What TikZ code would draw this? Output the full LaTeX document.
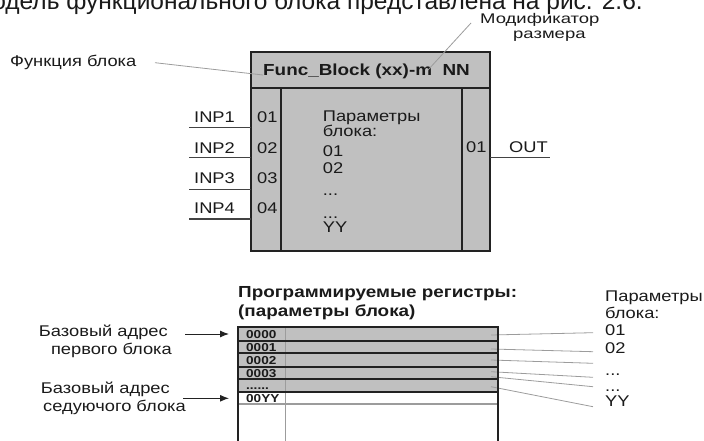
\documentclass[tikz,border=0pt]{standalone}
\usepackage{fontspec}
\setmainfont{Liberation Sans}
\newfontfamily\wf{Liberation Sans}[FakeStretch=1.18]
\newfontfamily\wfw{Liberation Sans}[FakeStretch=1.32]
\usetikzlibrary{arrows.meta}
\definecolor{blkfill}{HTML}{C0C0C0}
\definecolor{edgec}{HTML}{222222}
\definecolor{leadc}{HTML}{9C9C9C}
\definecolor{txtc}{HTML}{1A1A1A}
\tikzset{
  txt/.style={inner sep=0pt, text=txtc, font=\wf\fontsize{15.5}{18}\selectfont},
  txtw/.style={inner sep=0pt, text=txtc, font=\wfw\fontsize{14}{16}\selectfont},
  bld/.style={inner sep=0pt, text=txtc, font=\wf\bfseries\fontsize{16}{19}\selectfont},
  regl/.style={inner sep=0pt, text=txtc, font=\wf\bfseries\fontsize{11.5}{13}\selectfont},
  blkline/.style={draw=edgec, line width=2.2pt},
  tabline/.style={draw=edgec, line width=1.8pt},
  leader/.style={draw=leadc, line width=0.8pt},
  wire/.style={draw=edgec!85, line width=1.2pt},
  ptr/.style={draw=edgec, line width=1pt, -{Latex[length=9pt,width=7pt]}},
}
\begin{document}
\begin{tikzpicture}[x=1pt,y=-1pt]
\useasboundingbox (0,0) rectangle (704,441);
% caption line (cut at the top)
\node[anchor=base east, inner sep=0pt, text=txtc, font=\fontsize{24.5}{28}\selectfont] (cap) at (643,10) {Модель функционального блока представлена на рис. 2.6.};

% ---------- function block ----------
\coordinate (Bnw) at (251,51.7);
\coordinate (Bse) at (490,250.7);
\fill[blkfill] (Bnw) rectangle (Bse);
\coordinate (Tl) at (251,87.7);
\coordinate (Tr) at (490,87.7);
\coordinate (C1t) at (281,87.7);
\coordinate (C1b) at (281,250.7);
\coordinate (C2t) at (461.7,87.7);
\coordinate (C2b) at (461.7,250.7);
\draw[blkline] (Tl) -- (Tr);
\draw[blkline] (C1t) -- (C1b);
\draw[blkline] (C2t) -- (C2b);
\draw[blkline] (Bnw) rectangle (Bse);

\node[bld, anchor=base west] (title) at (263,75.7) {Func\_Block (xx)-m\ \ NN};

% labels outside
\node[txt, anchor=base west] (fn) at (10,66.7) {Функция блока};
\coordinate (fnA) at (155,62.7);
\coordinate (fnB) at (263,75);
\draw[leader] (fnA) -- (fnB);

\node[txtw, anchor=base west] (mod1) at (480,24) {Модификатор};
\node[txtw, anchor=base west] (mod2) at (513,39) {размера};
\coordinate (modA) at (471,23);
\coordinate (modB) at (428,70);
\draw[leader] (modA) -- (modB);

% inputs
\foreach \i/\lab/\by/\wy in {1/INP1/122.7/127.3, 2/INP2/153.3/157.7, 3/INP3/183.3/189.3, 4/INP4/213.3/219}{
  \node[txt, anchor=base west] (inp\i) at (194,\by) {\lab};
  \node[txt, anchor=base west] (pin\i) at (257,\by) {0\i};
  \coordinate (wA\i) at (189,\wy);
  \coordinate (wB\i) at (251,\wy);
  \draw[wire] (wA\i) -- (wB\i);
}

% parameters inside
\node[txt, anchor=base west] (p1) at (322.7,121.7) {Параметры};
\node[txt, anchor=base west] (p2) at (322.7,136.7) {блока:};
\node[txt, anchor=base west] (p3) at (322.7,156.7) {01};
\node[txt, anchor=base west] (p4) at (322.7,173.3) {02};
\node[txt, anchor=base west] (p5) at (322.7,195) {...};
\node[txt, anchor=base west] (p6) at (322.7,218) {...};
\node[txt, anchor=base west] (p7) at (322.7,232.7) {YY};

% output
\node[txt, anchor=base west] (pout) at (466,152.7) {01};
\node[txt, anchor=base west] (out) at (509,152.7) {OUT};
\coordinate (oA) at (490,157.7);
\coordinate (oB) at (550,157.7);
\draw[wire] (oA) -- (oB);

% ---------- register table ----------
\node[bld, anchor=base west] (rh1) at (238,297) {Программируемые регистры:};
\node[bld, anchor=base west] (rh2) at (238,316) {(параметры блока)};

\coordinate (Rnw) at (238.3,327.3);
\coordinate (Rg) at (498.3,391.7);
\fill[blkfill] (Rnw) rectangle (Rg);
\coordinate (Vt) at (285,327.3);
\coordinate (Vb) at (285,445);
\draw[leadc, line width=0.9pt] (Vt) -- (Vb);

% leaders to parameter list
\foreach \k/\ya/\yb in {1/335/332.7, 2/349/351.7, 3/360/363.3, 4/371.7/377.3, 5/376.7/386.7, 6/386.7/406.7}{
  \coordinate (lA\k) at (491,\ya);
  \coordinate (lB\k) at (593,\yb);
  \draw[leader] (lA\k) -- (lB\k);
}

\foreach \y in {341,353.3,366.7,379.3,391.7}{
  \draw[tabline] (238.3,\y) -- (498.3,\y);
}
\draw[leadc, line width=1.8pt] (238.3,404.3) -- (498.3,404.3);
\coordinate (Rne) at (498.3,327.3);
\coordinate (Rsw) at (238.3,445);
\coordinate (Rse) at (498.3,445);
\draw[tabline] (Rsw) -- (Rnw) -- (Rne) -- (Rse);

\node[regl, anchor=base west] (r0) at (246,338.6) {0000};
\node[regl, anchor=base west] (r1) at (246,351) {0001};
\node[regl, anchor=base west] (r2) at (246,364.3) {0002};
\node[regl, anchor=base west] (r3) at (246,377) {0003};
\node[regl, anchor=base west] (r4) at (246,389) {......};
\node[regl, anchor=base west] (r5) at (246,402) {00YY};

% right parameter list
\node[txt, anchor=base west] (q1) at (605,301.7) {Параметры};
\node[txt, anchor=base west] (q2) at (605,318.3) {блока:};
\node[txt, anchor=base west] (q3) at (605,335) {01};
\node[txt, anchor=base west] (q4) at (605,353.3) {02};
\node[txt, anchor=base west] (q5) at (605,375) {...};
\node[txt, anchor=base west] (q6) at (605,391.7) {...};
\node[txt, anchor=base west] (q7) at (605,406.7) {YY};

% base address labels
\node[txt, anchor=base east] (a1) at (168,336.7) {Базовый адрес};
\node[txt, anchor=base east] (a2) at (172,354.3) {первого блока};
\node[txt, anchor=base east] (a3) at (170,393.3) {Базовый адрес};
\node[txt, anchor=base east] (a4) at (186,411.7) {седуючого блока};
\coordinate (ar1a) at (185,334);
\coordinate (ar1b) at (229,334);
\coordinate (ar2a) at (183,398.3);
\coordinate (ar2b) at (229,398.3);
\draw[ptr] (ar1a) -- (ar1b);
\draw[ptr] (ar2a) -- (ar2b);
\end{tikzpicture}
\end{document}
